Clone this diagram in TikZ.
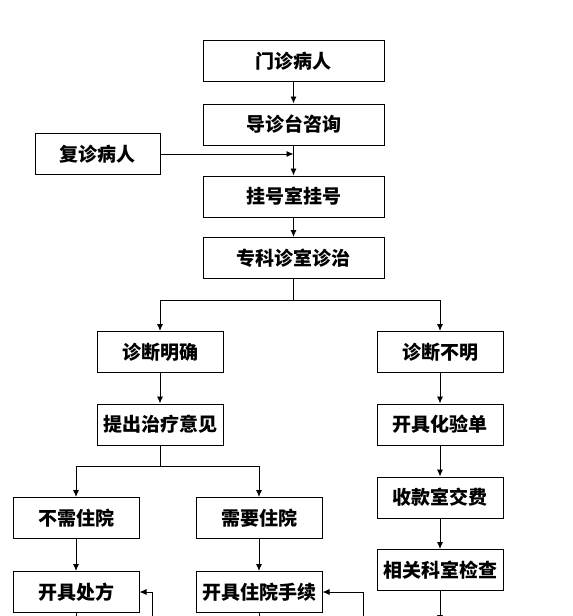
\documentclass[tikz,border=0pt]{standalone}
\usepackage{fontspec}
\newfontfamily\cjk{Noto Sans CJK SC}
\usetikzlibrary{arrows.meta,positioning}
\tikzset{
  flow/.style={-{Latex[length=7pt,width=6pt]}, line width=0.9pt, draw=black},
  link/.style={line width=0.9pt, draw=black},
  stage/.style={draw=black, fill=white, line width=1pt,
                minimum height=41pt, align=center, inner sep=2pt},
  wide/.style={stage, minimum width=181pt},
  narrow/.style={stage, minimum width=126pt},
}
\begin{document}
\begin{tikzpicture}[x=1pt,y=-1pt,font=\cjk\bfseries\fontsize{19}{21}\selectfont]
    \useasboundingbox (0,0) rectangle (573,616);
    \clip (0,0) rectangle (573,616);
    % main column
    \node[wide] (outpt) at (293.5,61) {门诊病人};
    \node[wide] (guide) at (293.5,124.5) {导诊台咨询};
    \node[narrow,minimum width=125pt] (revisit) at (97.5,154) {复诊病人};
    \node[wide] (register) at (293.5,196.5) {挂号室挂号};
    \node[wide] (clinic) at (293.5,258) {专科诊室诊治};
    % two branches
    \node[narrow] (clear) at (160,352) {诊断明确};
    \node[narrow] (unclear) at (440,352) {诊断不明};
    \node[narrow] (advice) at (160,424.5) {提出治疗意见};
    \node[narrow] (labform) at (440,424.5) {开具化验单};
    \node[narrow] (pay) at (440,497.5) {收款室交费};
    \node[narrow] (exam) at (440,570) {相关科室检查};
    \node[narrow] (noadmit) at (76,518) {不需住院};
    \node[narrow] (admit) at (259,518) {需要住院};
    \node[narrow] (prescr) at (76,592) {开具处方};
    \node[narrow] (admproc) at (259,592) {开具住院手续};
    \coordinate (split1) at (293.5,300);
    \coordinate (split2) at (160,466);
    \coordinate (prescrout) at (76,630);
    \coordinate (admout) at (259,630);
    \coordinate (backL) at (152,630);
    \coordinate (backR) at (363,630);
    \coordinate (examout) at (440,622);
    \draw[flow] (outpt) -- (guide);
    \draw[flow] (guide) -- (register);
    \draw[flow] (revisit) -- (revisit -| guide);
    \draw[flow] (register) -- (clinic);
    \draw[flow] (clinic) -- (split1) -| (clear);
    \draw[flow] (split1) -| (unclear);
    \draw[flow] (clear) -- (advice);
    \draw[flow] (advice) -- (split2) -| (noadmit);
    \draw[flow] (split2) -| (admit);
    \draw[flow] (unclear) -- (labform);
    \draw[flow] (labform) -- (pay);
    \draw[flow] (pay) -- (exam);
    \draw[flow] (noadmit) -- (prescr);
    \draw[flow] (admit) -- (admproc);
    % lines leaving the page
    \draw[link] (prescr) -- (prescrout);
    \draw[link] (admproc) -- (admout);
    \draw[flow] (backL) |- (prescr);
    \draw[flow] (backR) |- (admproc);
    \draw[flow] (exam) -- (examout);
  \end{tikzpicture}
\end{document}
